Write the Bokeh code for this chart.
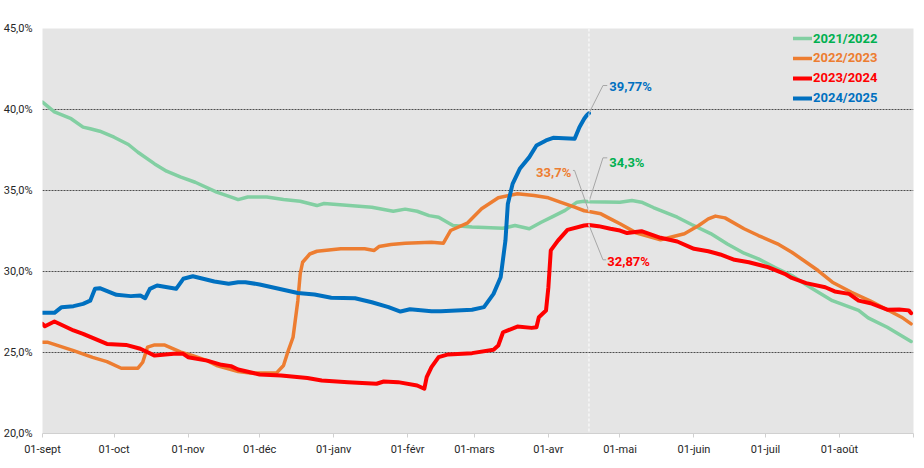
from bokeh.plotting import figure
from bokeh.models import (Range1d, FixedTicker, Span, Label, Legend, LegendItem)
from bokeh.embed import file_html
from bokeh.resources import INLINE

# Day index counted from 1 September (0) to 31 August (364)
MONTH_START_DAYS = [0, 30, 61, 91, 122, 153, 181, 212, 242, 273, 303, 334, 365]
MONTH_LABELS = ["01-sept", "01-oct", "01-nov", "01-déc", "01-janv", "01-févr",
                "01-mars", "01-avr", "01-mai", "01-juin", "01-juil", "01-août", ""]

Y_TICKS = [20, 25, 30, 35, 40, 45]
Y_LABELS = ["20,0%", "25,0%", "30,0%", "35,0%", "40,0%", "45,0%"]

SEASONS = ["2021/2022", "2022/2023", "2023/2024", "2024/2025"]
TODAY = 229  # 18 April

days_2122 = [0, 5, 12, 17, 20, 24, 30, 36, 40, 47, 52, 58, 64, 73, 80, 82, 86, 94,
             101, 108, 115, 118, 138, 147, 152, 157, 162, 166, 172, 180, 193, 198,
             204, 209, 214, 219, 224, 227, 229, 242, 247, 251, 256, 266, 272, 280,
             287, 294, 300, 307, 314, 322, 331, 342, 346, 354, 364]
vals_2122 = [40.45, 39.85, 39.43, 38.91, 38.81, 38.66, 38.29, 37.84, 37.36, 36.64,
             36.19, 35.82, 35.51, 34.9, 34.55, 34.44, 34.6, 34.6, 34.45, 34.34,
             34.07, 34.2, 33.97, 33.72, 33.85, 33.72, 33.45, 33.35, 32.84, 32.74,
             32.67, 32.84, 32.64, 33.04, 33.4, 33.77, 34.28, 34.34, 34.3, 34.28,
             34.38, 34.28, 33.95, 33.35, 32.9, 32.34, 31.7, 31.13, 30.78, 30.25,
             29.75, 29.0, 28.2, 27.6, 27.14, 26.56, 25.68]

days_2223 = [0, 2, 13, 21, 27, 33, 40, 42, 44, 47, 51, 58, 63, 69, 73, 82, 87, 98,
             101, 103, 105, 107, 108, 109, 112, 115, 125, 135, 139, 141, 146, 152,
             163, 168, 171, 178, 184, 191, 199, 206, 212, 217, 223, 227, 229, 234,
             238, 242, 249, 259, 269, 275, 279, 282, 286, 294, 300, 308, 314, 319,
             325, 331, 339, 347, 354, 360, 364]
vals_2223 = [25.64, 25.64, 25.12, 24.7, 24.44, 24.03, 24.03, 24.4, 25.33, 25.47,
             25.47, 25.02, 24.8, 24.5, 24.2, 23.83, 23.73, 23.73, 24.2, 25.12,
             25.94, 28.2, 29.86, 30.57, 31.08, 31.25, 31.4, 31.4, 31.3, 31.54,
             31.67, 31.75, 31.81, 31.75, 32.53, 32.98, 33.87, 34.55, 34.8, 34.69,
             34.55, 34.28, 33.97, 33.75, 33.7, 33.56, 33.25, 32.95, 32.37, 31.96,
             32.33, 32.84, 33.25, 33.42, 33.31, 32.64, 32.22, 31.71, 31.19, 30.68,
             30.06, 29.34, 28.72, 28.17, 27.64, 27.18, 26.77]

days_2324 = [0, 1, 5, 13, 17, 27, 35, 41, 47, 55, 59, 61, 69, 75, 79, 82, 91, 100,
             111, 117, 128, 140, 143, 149, 157, 160, 161, 163, 166, 170, 180, 189,
             191, 193, 199, 205, 207, 208, 211, 212, 213, 216, 220, 227, 229, 233,
             238, 242, 245, 251, 259, 266, 273, 279, 284, 290, 296, 304, 311, 314,
             320, 328, 332, 338, 342, 347, 354, 359, 363, 364]
vals_2324 = [26.77, 26.62, 26.91, 26.36, 26.15, 25.53, 25.47, 25.23, 24.81, 24.92,
             24.92, 24.71, 24.5, 24.24, 24.16, 23.95, 23.64, 23.58, 23.42, 23.27,
             23.17, 23.07, 23.21, 23.17, 22.96, 22.76, 23.48, 24.1, 24.71, 24.88,
             24.96, 25.17, 25.43, 26.25, 26.6, 26.52, 26.56, 27.18, 27.59, 29.03,
             31.3, 31.91, 32.57, 32.84, 32.87, 32.8, 32.64, 32.53, 32.37, 32.49,
             32.08, 31.85, 31.4, 31.25, 31.05, 30.72, 30.57, 30.27, 29.86, 29.6,
             29.28, 29.03, 28.77, 28.62, 28.2, 28.04, 27.64, 27.65, 27.6, 27.43]

days_2425 = [0, 5, 8, 13, 17, 20, 22, 24, 31, 37, 41, 43, 45, 48, 56, 59, 63, 72,
             78, 82, 85, 91, 107, 114, 121, 131, 138, 145, 150, 154, 163, 167, 180,
             185, 189, 192, 194, 195, 197, 200, 204, 207, 211, 214, 223, 225, 227,
             228, 229]
vals_2425 = [27.45, 27.45, 27.8, 27.86, 28.0, 28.2, 28.93, 28.97, 28.56, 28.48,
             28.52, 28.35, 28.93, 29.14, 28.93, 29.55, 29.71, 29.38, 29.24, 29.34,
             29.34, 29.2, 28.67, 28.58, 28.38, 28.35, 28.1, 27.8, 27.53, 27.67,
             27.55, 27.55, 27.64, 27.8, 28.62, 29.65, 31.91, 34.17, 35.41, 36.34,
             37.06, 37.78, 38.09, 38.25, 38.19, 38.91, 39.43, 39.63, 39.77]

LINE_COLORS = ["#82CFA2", "#ED7D31", "#FF0000", "#0070C0"]
TEXT_COLORS = ["#00B050", "#ED7D31", "#FF0000", "#0070C0"]
LINE_WIDTHS = [3.5, 3.5, 4, 4]

FONT = "Roboto"
FRAME_W, FRAME_H = 871, 405
X0, X1 = 0, 365
Y0, Y1 = 20, 45

p = figure(frame_width=FRAME_W, frame_height=FRAME_H,
           min_border_left=42, min_border_right=11, min_border_top=28,
           min_border_bottom=35, x_range=Range1d(X0, X1), y_range=Range1d(Y0, Y1),
           output_backend="svg", toolbar_location=None,
           background_fill_color="#E5E5E5", border_fill_color="white",
           outline_line_color=None)

# axes
p.xaxis.ticker = FixedTicker(ticks=MONTH_START_DAYS)
p.xaxis.major_label_overrides = {d: lab for d, lab in zip(MONTH_START_DAYS, MONTH_LABELS)}
p.xaxis.axis_line_color = "#D0D0D0"
p.xaxis.major_tick_line_color = "#D0D0D0"
p.xaxis.major_tick_out = 4
p.xaxis.major_tick_in = 0
p.xaxis.minor_tick_line_color = None
p.xaxis.minor_tick_out = 0
p.xaxis.major_label_standoff = 5
p.xaxis.major_label_text_font = FONT
p.xaxis.major_label_text_font_size = "11px"
p.xaxis.major_label_text_color = "#262626"

p.yaxis.ticker = FixedTicker(ticks=Y_TICKS)
p.yaxis.major_label_overrides = {t: lab for t, lab in zip(Y_TICKS, Y_LABELS)}
p.yaxis.axis_line_color = None
p.yaxis.major_tick_line_color = None
p.yaxis.minor_tick_line_color = None
p.yaxis.major_tick_out = 0
p.yaxis.major_tick_in = 0
p.yaxis.minor_tick_out = 0
p.yaxis.minor_tick_in = 0
p.yaxis.major_label_standoff = 10
p.yaxis.major_label_text_font = FONT
p.yaxis.major_label_text_font_size = "11px"
p.yaxis.major_label_text_color = "#262626"

p.xgrid.grid_line_color = None
p.ygrid.ticker = FixedTicker(ticks=Y_TICKS[1:])
p.ygrid.grid_line_color = "#4D4D4D"
p.ygrid.grid_line_dash = "2 1"
p.ygrid.grid_line_width = 1

# current-date marker
p.add_layout(Span(location=TODAY, dimension="height", line_color="white",
                  line_dash="3 2", line_width=1))

series_days = [days_2122, days_2223, days_2324, days_2425]
series_vals = [vals_2122, vals_2223, vals_2324, vals_2425]

renderers = []
for d, v, c, w in zip(series_days, series_vals, LINE_COLORS, LINE_WIDTHS):
    r = p.line(d, v, line_color=c, line_width=w, line_join="round", line_cap="round")
    renderers.append(r)

# one legend per season so each label gets its own colour
legend_bottoms = [385, 365.5, 345.5, 325.5]
for name, r, tc, yb in zip(SEASONS, renderers, TEXT_COLORS, legend_bottoms):
    lg = Legend(items=[LegendItem(label=name, renderers=[r])], location=(751, yb),
                glyph_width=19, glyph_height=20, label_height=20, label_standoff=1,
                padding=0, margin=0, spacing=0, border_line_alpha=0,
                background_fill_alpha=0, label_text_font=FONT,
                label_text_font_size="13px", label_text_font_style="bold",
                label_text_color=tc)
    p.add_layout(lg)

# value callouts at the current date, with leader lines
px_x = (X1 - X0) / FRAME_W
px_y = (Y1 - Y0) / FRAME_H


def value_at(days, vals, day):
    return vals[days.index(day)]


# (series index, elbow dx, elbow dy, end dx, text dx, text dy, align) in screen px, dy downward
callouts = [
    (3, 14, -27.7, 18.3, 20.3, -26.7, "left"),
    (0, 14, -44.0, 18.3, 20.3, -39.0, "left"),
    (1, -14.4, -41.1, -16.0, -17.7, -39.4, "right"),
    (2, 14, 34.8, 17.3, 18.3, 36.0, "left"),
]
for idx, edx, edy, endx, tdx, tdy, align in callouts:
    v = value_at(series_days[idx], series_vals[idx], TODAY)
    xs = [TODAY, TODAY + edx * px_x, TODAY + endx * px_x]
    ys = [v, v - edy * px_y, v - edy * px_y]
    p.line(xs, ys, line_color="#A6A6A6", line_width=1)
    txt = f"{v:g}".replace(".", ",") + "%"
    p.add_layout(Label(x=TODAY, y=v, x_offset=tdx, y_offset=-tdy, text=txt,
                       text_align=align, text_baseline="middle", text_font=FONT,
                       text_font_size="13px", text_font_style="bold",
                       text_color=TEXT_COLORS[idx]))

open("out.html", "w").write(file_html(p, INLINE))
